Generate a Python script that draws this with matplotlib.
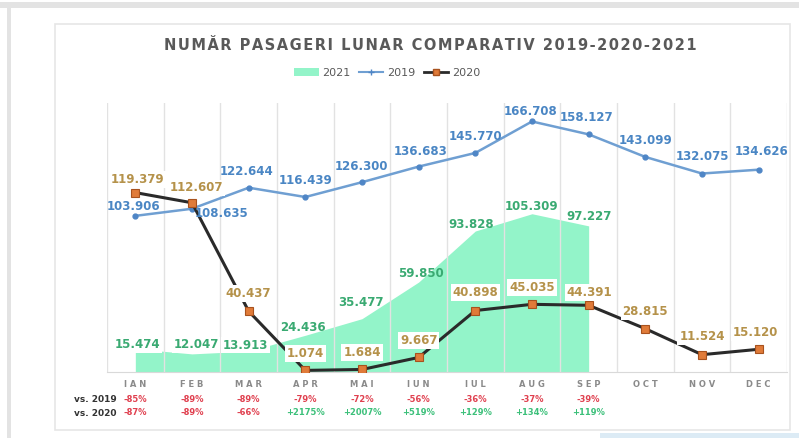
import numpy as np
import matplotlib.pyplot as plt
from matplotlib.lines import Line2D
from matplotlib.patches import Patch, Rectangle

# data (thousands of passengers, '.' as thousands separator)
months = ['IAN', 'FEB', 'MAR', 'APR', 'MAI', 'IUN', 'IUL', 'AUG', 'SEP', 'OCT', 'NOV', 'DEC']
pax_2019 = [103.906, 108.635, 122.644, 116.439, 126.300, 136.683, 145.770, 166.708, 158.127, 143.099, 132.075, 134.626]
pax_2020 = [119.379, 112.607, 40.437, 1.074, 1.684, 9.667, 40.898, 45.035, 44.391, 28.815, 11.524, 15.120]
pax_2021 = [15.474, 12.047, 13.913, 24.436, 35.477, 59.850, 93.828, 105.309, 97.227]
vs_2019 = ['-85%', '-89%', '-89%', '-79%', '-72%', '-56%', '-36%', '-37%', '-39%']
vs_2020 = ['-87%', '-89%', '-66%', '+2175%', '+2007%', '+519%', '+129%', '+134%', '+119%']

# label offsets in pixels (dx, dy), converted to points below
off_2019 = [(-2, 9), (30, -5), (-2, 16), (0, 17), (-1, 16), (2, 15), (0, 16), (-1, 10), (-2, 17), (0, 16), (0, 17), (3, 18)]
off_2020 = [(2, 13), (4, 15), (0, 18), (0, 17), (0, 17), (0, 17), (0, 18), (0, 17), (1, 13), (0, 17), (0, 18), (-3, 17)]
off_2021 = [(2, 4), (4, 9), (-3, 6), (-2, 8), (-1, 16), (2, 9), (-4, 6), (0, 7), (0, 9)]

c_blue = '#6F9FD2'
c_blue_txt = '#4A86C4'
c_dark = '#2A2A2A'
c_orange = '#E07B39'
c_gold = '#B5924A'
c_mint = '#93F4C9'
c_green_txt = '#3AAA72'
c_red = '#E0404F'
c_pos = '#3CC07A'
c_grey = '#8A8A8A'

px = 0.72  # points per pixel at dpi 100

fig = plt.figure(figsize=(7.99, 4.38), dpi=100)

# outer frame bits (kept behind the axes)
frame = [Rectangle((0, 1 - 8 / 438), 1, 6 / 438, facecolor='#E3E3E3', edgecolor='none'),
         Rectangle((7 / 799, 0), 4 / 799, 1 - 8 / 438, facecolor='#E3E3E3', edgecolor='none'),
         Rectangle((55 / 799, 1 - 430 / 438), 735 / 799, 406 / 438, facecolor='white',
                   edgecolor='#E6E6E6', lw=1.2),
         Rectangle((600 / 799, 0), 199 / 799, 5 / 438, facecolor='#DCEBF5', edgecolor='none')]
for r in frame:
    r.set_transform(fig.transFigure)
    r.set_zorder(-10)
    fig.patches.append(r)

ax = fig.add_axes([107 / 799, 1 - 372 / 438, 680 / 799, 269 / 438])
ax.patch.set_alpha(0)
x = np.arange(len(months))
x21 = np.arange(len(pax_2021))

ax.fill_between(x21, pax_2021, 0, color=c_mint, lw=0, zorder=1)
ax.plot(x, pax_2019, color=c_blue, lw=1.8, marker='o', ms=3.5, mfc='#4F86C6', mec='#4F86C6', zorder=3)
ax.plot(x, pax_2020, color=c_dark, lw=2.2, marker='s', ms=6, mfc=c_orange, mec='#A8521E', mew=0.8, zorder=4)

for i, v in enumerate(pax_2019):
    dx, dy = off_2019[i]
    ax.annotate(f'{v:.3f}', (i, v), xytext=(dx * px, dy * px), textcoords='offset points',
                ha='center', va='center', fontsize=8.5, fontweight='bold', color=c_blue_txt, zorder=6)
for i, v in enumerate(pax_2020):
    dx, dy = off_2020[i]
    ax.annotate(f'{v:.3f}', (i, v), xytext=(dx * px, dy * px), textcoords='offset points',
                ha='center', va='center', fontsize=8.5, fontweight='bold', color=c_gold, zorder=6,
                bbox=dict(boxstyle='square,pad=0.15', fc='white', ec='none'))
for i, v in enumerate(pax_2021):
    dx, dy = off_2021[i]
    bb = dict(boxstyle='square,pad=0.15', fc='white', ec='none') if i < 3 else None
    ax.annotate(f'{v:.3f}', (i, v), xytext=(dx * px, dy * px), textcoords='offset points',
                ha='center', va='center', fontsize=8.5, fontweight='bold', color=c_green_txt,
                zorder=5, bbox=bb)

ax.set_xlim(-0.5, 11.5)
ax.set_ylim(0, 179)
ax.set_yticks([])
ax.set_xticks(np.arange(-0.5, 12, 1))
ax.set_xticklabels([])
ax.tick_params(axis='x', length=0)
ax.grid(axis='x', color='#E2E2E2', lw=1, zorder=0)
for s in ['top', 'right', 'left']:
    ax.spines[s].set_visible(False)
ax.spines['bottom'].set_color('#D9D9D9')

trans = ax.get_xaxis_transform()
for i, m in enumerate(months):
    ax.text(i, -0.045, ' '.join(m), transform=trans, ha='center', va='center',
            fontsize=6, color=c_grey, fontweight='bold')
for i in range(len(vs_2019)):
    ax.text(i, -0.104, vs_2019[i], transform=trans, ha='center', va='center',
            fontsize=6, color=c_red, fontweight='bold')
    col = c_red if vs_2020[i].startswith('-') else c_pos
    ax.text(i, -0.152, vs_2020[i], transform=trans, ha='center', va='center',
            fontsize=6, color=col, fontweight='bold')
fig.text(117 / 799, 1 - 400 / 438, 'vs. 2019', ha='right', va='center', fontsize=6.5,
         fontweight='bold', color='#333333')
fig.text(117 / 799, 1 - 413 / 438, 'vs. 2020', ha='right', va='center', fontsize=6.5,
         fontweight='bold', color='#333333')

title = 'NUMĂR PASAGERI LUNAR COMPARATIV 2019-2020-2021'
fig.text(430 / 799, 1 - 45 / 438, '\u200a'.join(title),
         ha='center', va='center', fontsize=10.5, fontweight='bold', color='#595959')

handles = [Patch(facecolor=c_mint, edgecolor='none'),
           Line2D([], [], color=c_blue, lw=1.5, marker='+', ms=5, mec='#4F86C6'),
           Line2D([], [], color=c_dark, lw=2, marker='s', ms=5, mfc=c_orange, mec='#A8521E')]
leg = fig.legend(handles, ['2021', '2019', '2020'], loc='center', ncol=3,
                 bbox_to_anchor=(387 / 799, 1 - 73 / 438), frameon=False, fontsize=8,
                 handlelength=2.2, handletextpad=0.3, columnspacing=0.8)
for t in leg.get_texts():
    t.set_color('#595959')

fig.savefig('out.png', dpi=100)
